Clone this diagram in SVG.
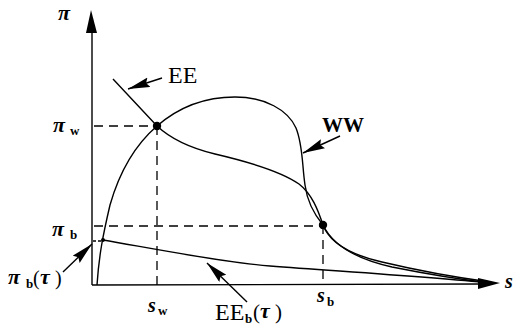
<svg xmlns="http://www.w3.org/2000/svg" width="517" height="327" viewBox="0 0 517 327">
<style>
.ln{fill:none;stroke:#000;stroke-width:1.4}
.dash{fill:none;stroke:#000;stroke-width:1.3;stroke-dasharray:9,6}
.ptr{fill:none;stroke:#000;stroke-width:1.4;marker-end:url(#ah)}
.t{font-family:"Liberation Serif","Times New Roman",serif;fill:#000}
.g{font-weight:bold;font-style:italic;font-size:22px}
.sub{font-size:13px;font-weight:bold}
.it{font-style:italic;font-weight:bold;font-size:20px}
</style>
<defs>
<marker id="ah" markerUnits="userSpaceOnUse" markerWidth="24" markerHeight="12" refX="22" refY="5" orient="auto">
<path d="M0,0 L22,5 L0,10 L3,5 z" fill="#000"/>
</marker>
</defs>
<rect width="517" height="327" fill="#fff"/>
<g id="axes">
<line class="ln" x1="92" y1="285" x2="92" y2="30"/>
<polygon points="91,10 86,33 97,33" fill="#000"/>
<line class="ln" x1="92" y1="285" x2="480" y2="284"/>
<polygon points="500,283 478,278 478,289" fill="#000"/>
<text class="t g" x="58" y="20">π</text>
<text class="t it" x="505" y="288">s</text>
</g>
<g id="guides">
<line class="dash" x1="94" y1="126" x2="157" y2="126"/>
<line class="dash" x1="157" y1="126" x2="157" y2="285"/>
<line class="dash" x1="94" y1="226" x2="323" y2="226"/>
<line class="dash" x1="323" y1="225" x2="323" y2="285"/>
<line class="dash" x1="93" y1="241" x2="102" y2="241" style="stroke-dasharray:3,2"/>
</g>
<g id="curve-EE">
<path class="ln" d="M113,79 L157,126 C172,140 190,148 215,154 C245,161 282,172 299,184 C312,194 318,210 323,225 C329,241 347,254 382,262 C420,271 460,278 490,282"/>
</g>
<g id="curve-WW">
<path class="ln" d="M97,285 C99,255 103,235 110,205 C120,170 135,145 157,126 C180,106 205,97 235,97 C265,97 288,110 296,128 C303,145 302,165 305,185 C307,200 313,213 323,225 C331,242 352,258 392,267 C432,275 465,280 490,283"/>
</g>
<g id="curve-EEb">
<path class="ln" d="M103,240 C150,248 220,262 270,266 C350,272 430,277 490,283"/>
</g>
<g id="points">
<circle cx="157" cy="126" r="4.2" fill="#000"/>
<circle cx="323" cy="225" r="4.2" fill="#000"/>
<circle cx="103" cy="240" r="2" fill="#000"/>
</g>
<g id="connectors">
<path class="ptr" d="M162,78 L128,89"/>
<path class="ptr" d="M340,136 L303,153"/>
<path class="ptr" d="M63,272 L92,244"/>
<path class="ptr" d="M247,302 L207,263"/>
</g>
<g id="label-EE"><text class="t" x="168" y="83" font-size="24">EE</text></g>
<g id="label-WW"><text class="t" x="322" y="132" font-size="21" font-weight="bold">WW</text></g>
<g id="label-piw"><text class="t g" x="53" y="132">π</text><text class="t sub" x="70" y="135">w</text></g>
<g id="label-pib"><text class="t g" x="52" y="236">π</text><text class="t sub" x="70" y="239">b</text></g>
<g id="label-pibtau"><text class="t g" x="8" y="284">π</text><text class="t sub" x="26" y="288">b</text><text class="t" x="33" y="285" font-size="20">(</text><text class="t g" x="40" y="284">τ</text><text class="t" x="55" y="285" font-size="20">)</text></g>
<g id="label-sw"><text class="t it" x="148" y="312">s</text><text class="t sub" x="158" y="315">w</text></g>
<g id="label-sb"><text class="t it" x="317" y="302">s</text><text class="t sub" x="327" y="306">b</text></g>
<g id="label-EEb"><text class="t" x="215" y="320" font-size="24">EE</text><text class="t sub" x="245" y="323">b</text><text class="t" x="253" y="319" font-size="21">(</text><text class="t g" x="260" y="318">τ</text><text class="t" x="275" y="319" font-size="21">)</text></g>
</svg>
